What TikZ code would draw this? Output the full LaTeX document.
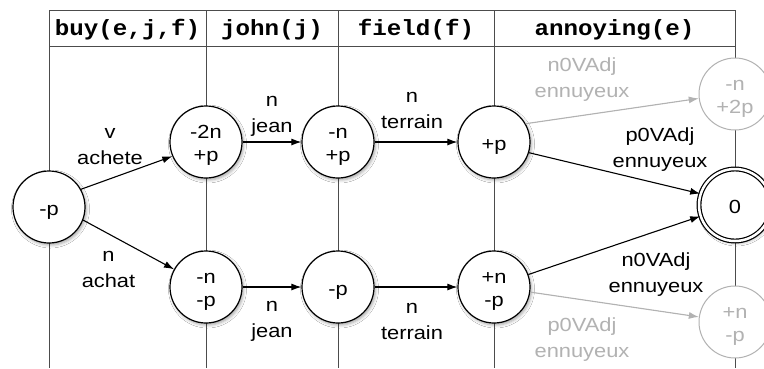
\documentclass[tikz,border=0pt]{standalone}
\usepackage{fontspec}
\setmainfont{Liberation Sans}[FakeStretch=1.15]
\newfontfamily\hdrfont{Liberation Mono}[FakeStretch=1.1]
\usetikzlibrary{arrows.meta,shadows.blur}

\definecolor{rulecol}{gray}{0.3}
\definecolor{faint}{gray}{0.70}

% struts: one for the text inside states, one for the edge labels
\newcommand\cst{\rule[-3pt]{0pt}{23pt}}
\newcommand\lst{\rule[-5pt]{0pt}{19pt}}

\tikzset{
  state/.style={circle, draw=black, line width=1.2pt, fill=white,
    minimum size=72pt, inner sep=0pt, align=center,
    font=\fontsize{19}{23}\selectfont,
    blur shadow={shadow xshift=1.5pt, shadow yshift=-2pt,
      shadow blur radius=3pt, shadow opacity=35}},
  ghost/.style={circle, draw=faint, line width=1pt, fill=white,
    minimum size=72pt, inner sep=0pt, align=center, text=faint,
    font=\fontsize{19}{23}\selectfont},
  final/.style={state, double, double distance=2.5pt},
  lbl/.style={align=center, inner sep=0pt, font=\fontsize{19}{26}\selectfont},
  ghostlbl/.style={lbl, text=faint},
  hdr/.style={inner sep=0pt, font=\hdrfont\bfseries\fontsize{22}{26}\selectfont},
  arc/.style={-{Latex[length=10pt,width=7pt]}, line width=1.1pt},
  ghostarc/.style={arc, draw=faint, fill=faint},
  gridline/.style={draw=rulecol, line width=0.8pt},
}

\begin{document}
\begin{tikzpicture}[x=1pt, y=-1pt]
  \useasboundingbox (0,0) rectangle (764,368);
  \fill[white] (0,0) rectangle (764,368);

  % table: header band and column rules
  \draw[gridline] (49,10) -- (735,10);
  \draw[gridline] (49,46) -- (735,46);
  \foreach \cx in {49,206,338,494,735}
    \draw[gridline] (\cx,10) -- (\cx,368);

  % column headers
  \node[hdr] (h1) at (127.5,30) {buy(e,j,f)};
  \node[hdr] (h2) at (272,30)   {john(j)};
  \node[hdr] (h3) at (416,30)   {field(f)};
  \node[hdr] (h4) at (614.5,30) {annoying(e)};

  % states
  \node[state] (s0) at (49,207)  {\cst-p};
  \node[state] (a1) at (206,142) {\cst-2n\\\cst+p};
  \node[state] (a2) at (338,142) {\cst-n\\\cst+p};
  \node[state] (a3) at (494,142) {\cst+p};
  \node[ghost] (a4) at (735,94)  {\cst-n\\\cst+2p};
  \node[final] (f)  at (735,205) {\cst 0};
  \node[state] (b1) at (206,287) {\cst-n\\\cst-p};
  \node[state] (b2) at (338,287) {\cst-p};
  \node[state] (b3) at (494,287) {\cst+n\\\cst-p};
  \node[ghost] (b4) at (735,322) {\cst+n\\\cst-p};

  % transitions
  \draw[arc] (s0.29) -- (a1.203);
  \draw[arc] (s0.-21) -- (b1.151);
  \draw[arc] (a1) -- (a2);
  \draw[arc] (a2) -- (a3);
  \draw[ghostarc] (a3.30) -- (a4.187);
  \draw[arc] (a3.-17) -- (f.162);
  \draw[arc] (b1) -- (b2);
  \draw[arc] (b2) -- (b3);
  \draw[arc] (b3.20) -- (f.198);
  \draw[ghostarc] (b3.-8) -- (b4.172);

  % transition labels
  \node[lbl] (lv)   at (110,146.5)   {\lst v\\\lst achete};
  \node[lbl] (ljt)  at (272,114.5)   {\lst n\\\lst jean};
  \node[lbl] (ltt)  at (412,110.5)   {\lst n\\\lst terrain};
  \node[ghostlbl] (lgt) at (582,79.5) {\lst n0VAdj\\\lst ennuyeux};
  \node[lbl] (lpt)  at (660,149.5)   {\lst p0VAdj\\\lst ennuyeux};
  \node[lbl] (lach) at (108.5,269.5) {\lst n\\\lst achat};
  \node[lbl] (ljb)  at (272,319.5)   {\lst n\\\lst jean};
  \node[lbl] (ltb)  at (412,321.5)   {\lst n\\\lst terrain};
  \node[lbl] (lnb)  at (656,274.5)   {\lst n0VAdj\\\lst ennuyeux};
  \node[ghostlbl] (lgb) at (582,339.5) {\lst p0VAdj\\\lst ennuyeux};
\end{tikzpicture}
\end{document}
